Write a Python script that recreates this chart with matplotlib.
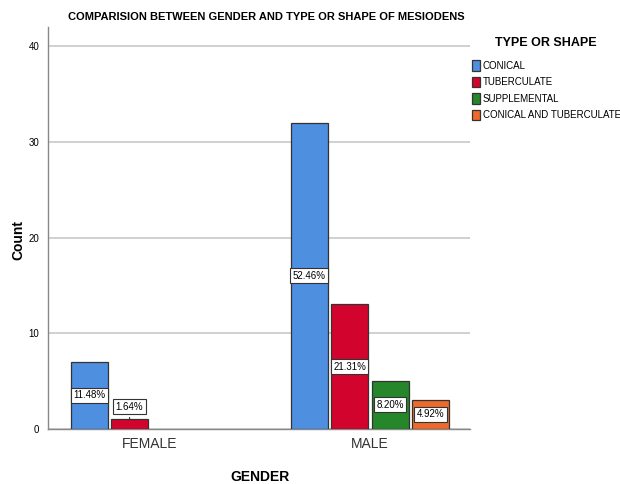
import matplotlib.pyplot as plt
import numpy as np

plt.rcParams['font.family'] = ['Liberation Sans Narrow', 'Liberation Sans', 'DejaVu Sans']

genders = ['FEMALE', 'MALE']
shapes = ['CONICAL', 'TUBERCULATE', 'SUPPLEMENTAL', 'CONICAL AND TUBERCULATE']
counts = {
    'CONICAL': [7, 32],
    'TUBERCULATE': [1, 13],
    'SUPPLEMENTAL': [0, 5],
    'CONICAL AND TUBERCULATE': [0, 3],
}
pct_labels = {
    'CONICAL': ['11.48%', '52.46%'],
    'TUBERCULATE': ['1.64%', '21.31%'],
    'SUPPLEMENTAL': [None, '8.20%'],
    'CONICAL AND TUBERCULATE': [None, '4.92%'],
}
colors = ['#4f8fe0', '#d2042d', '#25862a', '#ee6a2c']

fig = plt.figure(figsize=(6.2, 4.84), dpi=100)
ax = fig.add_axes([0.077, 0.114, 0.681, 0.830])

x = np.arange(len(genders))
w = 0.168
step = 0.184
for i, s in enumerate(shapes):
    pos = x + (i - 1.5) * step
    vals = np.array(counts[s], dtype=float)
    keep = vals > 0
    ax.bar(pos[keep], vals[keep], width=w, color=colors[i], edgecolor='#333333',
           linewidth=0.9, zorder=3)
    ax.bar([np.nan], [np.nan], color=colors[i], edgecolor='#333333', linewidth=0.9, label=s)
    for p, v, lab in zip(pos, vals, pct_labels[s]):
        if lab is None:
            continue
        box = dict(boxstyle='square,pad=0.25', fc='white', ec='#333333', lw=0.8)
        if v < 2:
            ax.annotate(lab, xy=(p, v), xytext=(p, v + 1.3), ha='center', va='center',
                        fontsize=7, bbox=box, zorder=5,
                        arrowprops=dict(arrowstyle='-', color='#333333', lw=0.8))
        else:
            ax.text(p, v / 2, lab, ha='center', va='center', fontsize=7, bbox=box, zorder=5)

ax.set_xlim(-0.464, 0.455 + 1)
ax.set_ylim(0, 42)
ax.set_yticks([0, 10, 20, 30, 40])
ax.set_xticks(x)
ax.set_xticklabels(genders, fontsize=10, color='#333333')
ax.tick_params(axis='y', labelsize=7, length=0, pad=6)
ax.tick_params(axis='x', length=0, pad=6)
ax.yaxis.grid(True, color='#c8c8c8', lw=1.2, zorder=0)
for sp in ['top', 'right']:
    ax.spines[sp].set_visible(False)
for sp in ['left', 'bottom']:
    ax.spines[sp].set_color('#888888')
    ax.spines[sp].set_linewidth(1.0)

fig.text(18 / 620, 1 - 240 / 484, 'Count', rotation=90, ha='center', va='center',
         fontsize=10, fontweight='bold')
fig.text(260 / 620, 1 - 477 / 484, 'GENDER', ha='center', va='center',
         fontsize=10, fontweight='bold')
fig.text(266 / 620, 1 - 17 / 484, 'COMPARISION BETWEEN GENDER AND TYPE OR SHAPE OF MESIODENS',
         ha='center', va='center', fontsize=8, fontweight='bold')

fig.text(546 / 620, 1 - 43 / 484, 'TYPE OR SHAPE', ha='center', va='center',
         fontsize=9, fontweight='bold')
leg = fig.legend(loc='upper left', bbox_to_anchor=(472 / 620, 1 - 60 / 484), frameon=False,
                 fontsize=7, handlelength=0.8, handleheight=1.3,
                 handletextpad=0.3, labelspacing=0.62, borderaxespad=0, borderpad=0)

fig.savefig('out.png', dpi=100)
